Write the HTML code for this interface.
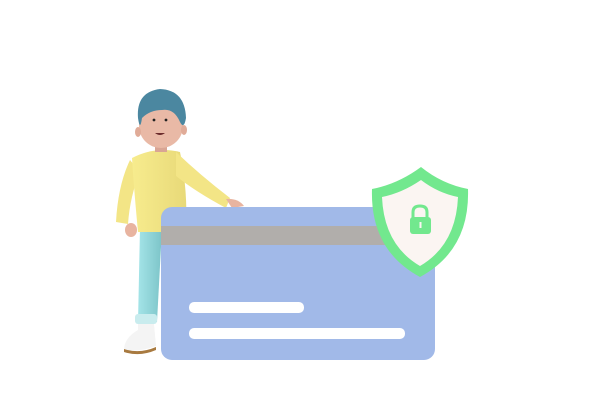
<!DOCTYPE html>
<html><head><meta charset="utf-8"><style>html,body{margin:0;padding:0;background:#fff}svg{display:block}</style></head>
<body>
<svg width="612" height="408" viewBox="0 0 612 408" xmlns="http://www.w3.org/2000/svg">
<defs>
<linearGradient id="leg" x1="0" x2="1"><stop offset="0" stop-color="#a4e4e8"/><stop offset="1" stop-color="#7cc4c8"/></linearGradient>
<linearGradient id="shirt" x1="0" x2="1"><stop offset="0" stop-color="#f7ec8e"/><stop offset="1" stop-color="#e8d978"/></linearGradient>
</defs>
<!-- legs -->
<path d="M140 228 L162 228 L157 322 L138 322 Z" fill="url(#leg)"/>
<rect x="135" y="314" width="22" height="10" rx="3" fill="#c9ecee"/>
<path d="M138 324 L154 324 L156 346 Q140 352 124 350 Q124 338 138 330 Z" fill="#f4f4f4"/>
<path d="M124 349 Q140 354 156 347 L156 350 Q140 357 124 352 Z" fill="#a87a40"/>
<!-- left arm -->
<path d="M130 160 Q118 185 116 222 L128 224 Q130 196 140 172 Z" fill="#f3e586"/>
<ellipse cx="131" cy="230" rx="6" ry="7" fill="#e8b4a0"/>
<!-- torso -->
<path d="M132 158 Q155 146 180 152 Q188 190 186 232 L138 232 Q134 190 132 158 Z" fill="url(#shirt)"/>
<!-- right arm -->
<path d="M176 152 Q200 175 230 198 L226 208 Q196 192 176 176 Z" fill="#f3e586"/>
<path d="M226 199 Q238 198 244 206 L232 208 Z" fill="#e8b4a0"/>
<!-- neck & head -->
<rect x="155" y="142" width="12" height="10" fill="#d9a594"/>
<ellipse cx="161" cy="126" rx="22" ry="22" fill="#e9b9a6"/>
<ellipse cx="138" cy="132" rx="3" ry="5" fill="#e0ab98"/>
<ellipse cx="184" cy="130" rx="3" ry="5" fill="#e0ab98"/>
<path d="M138 118 Q136 92 160 89 Q185 90 186 118 Q184 130 180 122 Q174 108 162 110 Q150 110 142 118 Q140 132 138 118 Z" fill="#4b87a0"/>
<circle cx="154" cy="120" r="1.4" fill="#222"/><circle cx="166" cy="120" r="1.4" fill="#222"/>
<path d="M155 133 Q160 137 165 133 Z" fill="#6a2a2a"/>
<!-- card -->
<rect x="161" y="207" width="274" height="153" rx="11" fill="#a1b9e8"/>
<rect x="161" y="226" width="274" height="19" fill="#b1aeab"/>
<rect x="189" y="302" width="115" height="11" rx="5" fill="#fff"/>
<rect x="189" y="328" width="216" height="11" rx="5" fill="#fff"/>
<!-- shield -->
<path d="M421 167 Q398 184 372 189 Q370 250 420 277 Q470 250 468 189 Q442 184 421 167 Z" fill="#72e88e"/>
<path d="M421 180 Q402 193 382 197 Q384 245 420 266 Q456 245 458 197 Q438 193 421 180 Z" fill="#fbf5f2"/>
<path d="M413 218 V212 Q413 206 420 206 Q427 206 427 212 V218" fill="none" stroke="#72e88e" stroke-width="3"/>
<rect x="410" y="217" width="21" height="17" rx="3" fill="#72e88e"/>
<rect x="419.5" y="222" width="2" height="6" fill="#fbf5f2"/>
</svg>
</body></html>
